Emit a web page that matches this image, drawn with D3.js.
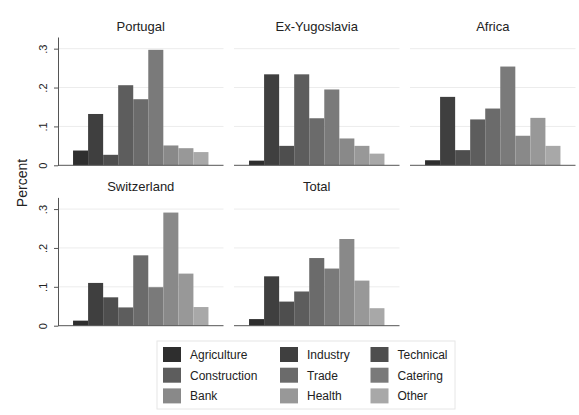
<!DOCTYPE html>
<html><head><meta charset="utf-8">
<script src="https://cdn.jsdelivr.net/npm/d3@7"></script>
<style>body{margin:0;background:#fff}svg{display:block;font-family:"Liberation Sans",Arial,sans-serif}</style>
</head><body>
<script>
const categories = ["Agriculture","Industry","Technical","Construction","Trade","Catering","Bank","Health","Other"];
const regions = ["Portugal","Ex-Yugoslavia","Africa","Switzerland","Total"];
const portugal     = [0.038,0.132,0.027,0.206,0.170,0.297,0.051,0.044,0.034];
const exYugoslavia = [0.012,0.234,0.050,0.234,0.121,0.195,0.069,0.050,0.030];
const africa       = [0.013,0.176,0.039,0.118,0.146,0.254,0.076,0.122,0.050];
const switzerland  = [0.013,0.110,0.073,0.047,0.181,0.099,0.291,0.134,0.048];
const total        = [0.017,0.127,0.062,0.088,0.174,0.147,0.223,0.116,0.045];
const seriesValues = [portugal, exYugoslavia, africa, switzerland, total];
const yTicks = [0, 0.1, 0.2, 0.3];
const yTickLabels = ["0", ".1", ".2", ".3"];
const colors = ["#2e2e2e","#3f3f3f","#4e4e4e","#5d5d5d","#6b6b6b","#7a7a7a","#898989","#989898","#a8a8a8"];

const W = 579, H = 415;
const svg = d3.select("body").append("svg").attr("width", W).attr("height", H);

const panelW = 165.5, colStep = 176, colX0 = 58;
const rowTop = [37, 197.4], rowBottom = [165.3, 325.7];

const color = d3.scaleOrdinal().domain(categories).range(colors);

regions.forEach((name, i) => {
  const col = i % 3, row = Math.floor(i / 3);
  const x0 = colX0 + col * colStep;
  const x = d3.scaleBand().domain(categories).range([x0, x0 + panelW]).paddingInner(0).paddingOuter(1);
  const y = d3.scaleLinear().domain([0, 0.33]).range([rowBottom[row], rowTop[row]]);
  const g = svg.append("g");

  // gridlines
  g.selectAll("line.grid").data(yTicks.filter(t => t > 0)).join("line")
    .attr("x1", x0).attr("x2", x0 + panelW)
    .attr("y1", d => y(d)).attr("y2", d => y(d))
    .attr("stroke", "#ececec").attr("stroke-width", 1);

  // bars
  g.selectAll("rect").data(seriesValues[i]).join("rect")
    .attr("x", (d, j) => x(categories[j]))
    .attr("width", x.bandwidth())
    .attr("y", d => y(d))
    .attr("height", d => y(0) - y(d))
    .attr("fill", (d, j) => color(categories[j]));

  // bottom baseline
  g.append("line").attr("x1", x0).attr("x2", x0 + panelW)
    .attr("y1", y(0)).attr("y2", y(0)).attr("stroke", "#555").attr("stroke-width", 1);

  // title
  g.append("text").attr("x", x0 + panelW / 2).attr("y", rowTop[row] - 6)
    .attr("text-anchor", "middle").attr("font-size", 13).attr("fill", "#222").text(name);

  if (col === 0) {
    const ax = g.append("g").attr("transform", `translate(${x0},0)`)
      .call(d3.axisLeft(y).tickValues(yTicks).tickFormat((d, k) => yTickLabels[k]).tickSize(4).tickSizeOuter(0));
    ax.select(".domain").attr("stroke", "#555");
    ax.selectAll(".tick line").attr("stroke", "#555");
    ax.selectAll(".tick text")
      .attr("font-size", 11).attr("fill", "#222").attr("font-family", "Liberation Sans, Arial, sans-serif")
      .attr("transform", "rotate(-90)")
      .attr("x", 0).attr("y", -11).attr("dy", 0)
      .attr("text-anchor", "middle");
  }
});

// y label
svg.append("text").attr("transform", "translate(27,183) rotate(-90)")
  .attr("text-anchor", "middle").attr("font-size", 14).attr("fill", "#222").text("Percent");

// legend
const lg = svg.append("g");
lg.append("rect").attr("x", 157).attr("y", 341).attr("width", 298).attr("height", 68)
  .attr("fill", "#fff").attr("stroke", "#e6e6e6");
const lgColX = [163, 280, 370.5];
const lgRowY = [347, 367.7, 388.4];
categories.forEach((c, k) => {
  const cx = lgColX[k % 3], ry = lgRowY[Math.floor(k / 3)];
  lg.append("rect").attr("x", cx).attr("y", ry).attr("width", 18).attr("height", 15).attr("fill", color(c));
  lg.append("text").attr("x", cx + 27).attr("y", ry + 12).attr("font-size", 12).attr("fill", "#222").text(c);
});
</script>
</body></html>
